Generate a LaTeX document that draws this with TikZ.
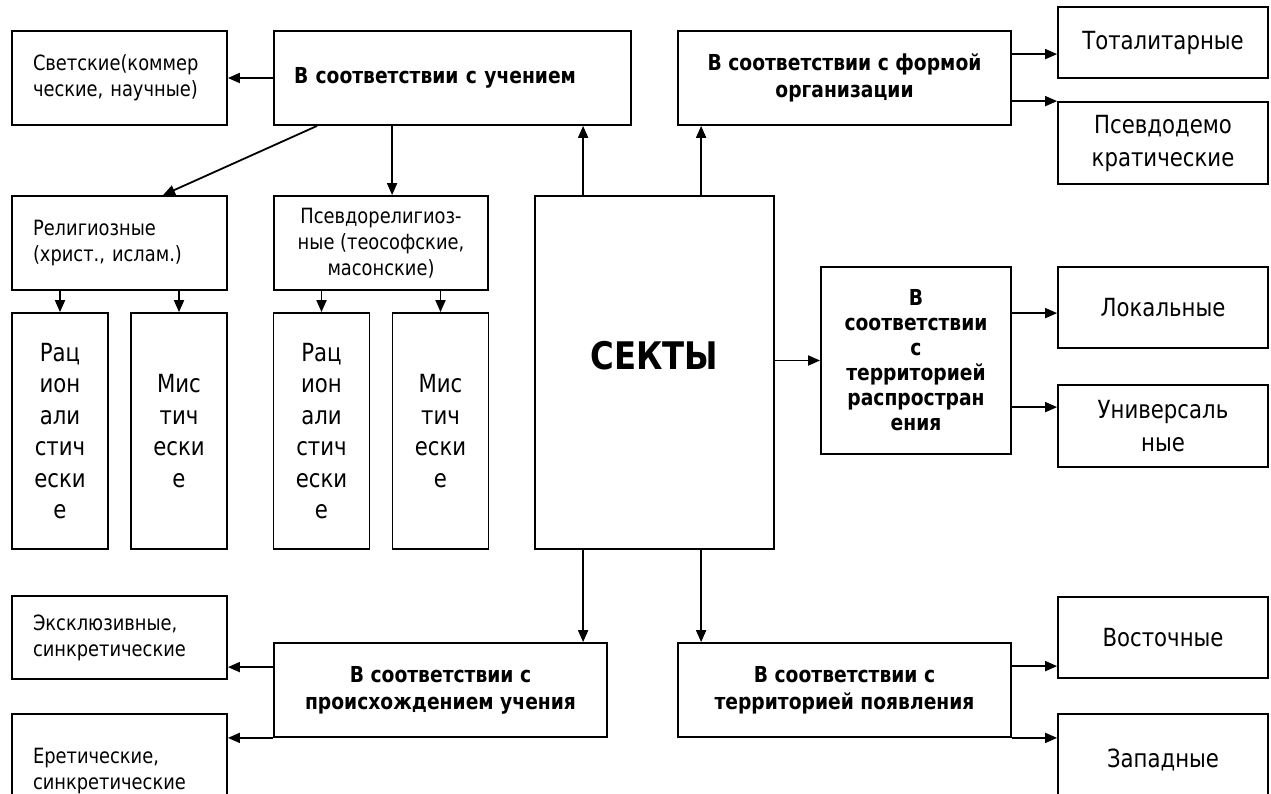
\documentclass[tikz,border=0pt]{standalone}
\usepackage{fontspec}
\setmainfont{DejaVu Sans}[FakeStretch=0.85]
\usetikzlibrary{arrows.meta, calc}

\newcommand{\sidefont}{\fontsize{21}{26}\selectfont}
\newcommand{\tallfont}{\fontsize{25}{31.5}\selectfont}
\newcommand{\kindfont}{\fontsize{25}{33}\selectfont}
\newcommand{\critfont}{\bfseries\fontsize{22}{27}\selectfont}
\newcommand{\sektyfont}{\bfseries\fontsize{38}{44}\selectfont}

\tikzset{
    sidebox/.style={minimum width=215pt, text width=173pt, align=left, font=\sidefont},
    kindbox/.style={minimum width=210pt, font=\kindfont},
    tallbox/.style={minimum width=96pt, minimum height=236pt, font=\tallfont},
    critbox/.style={font=\critfont}
}

\begin{document}
\begin{tikzpicture}[
    x=1pt, y=1pt,
    every node/.style={
        draw=black,
        line width=1.8pt,
        inner sep=0pt,
        align=center},
    line width=1.8pt,
    >={Triangle[length=12pt, width=10pt]}]
    \fill[white] (0,0) rectangle (1271,-794);
    \useasboundingbox (0,0) rectangle (1271,-794);

    % top row
    \node[sidebox, minimum height=94pt] (svet) at (119.5,-78) {Светские(коммер\\ческие, научные)};
    \node[critbox, minimum width=357pt, minimum height=94pt, text width=317pt, align=left] (uchen) at (452.5,-78) {В соответствии с учением};
    \node[critbox, minimum width=333pt, minimum height=94pt] (forma) at (844.5,-78) {В соответствии с формой\\организации};
    \node[kindbox, minimum height=71pt] (total) at (1163,-42.5) {Тоталитарные};
    \node[kindbox, minimum height=82pt] (psdem) at (1163,-143) {Псевдодемо\\кратические};

    % by teaching
    \node[sidebox, minimum height=94pt] (relig) at (119.5,-243) {Религиозные\\(христ., ислам.)};
    \node[font=\sidefont, minimum width=214pt, minimum height=94pt] (psrel) at (381,-243) {Псевдорелигиоз-\\ные (теософские,\\масонские)};
    \node[tallbox] (rac1) at (60,-431) {Рац\\ион\\али\\стич\\ески\\е};
    \node[tallbox] (mist1) at (179,-431) {Мис\\тич\\ески\\е};
    \node[tallbox] (rac2) at (321.5,-431) {Рац\\ион\\али\\стич\\ески\\е};
    \node[tallbox] (mist2) at (440.5,-431) {Мис\\тич\\ески\\е};

    % centre
    \node[minimum width=239pt, minimum height=353pt,
        label={[draw=none, font=\sektyfont, yshift=17pt]center:СЕКТЫ}] (sekty) at (654.5,-372.5) {};
    \node[font=\bfseries\fontsize{22}{25}\selectfont, minimum width=190pt, minimum height=187pt] (terrras) at (916,-360.5) {В\\соответствии\\с\\территорией\\распростран\\ения};
    \node[kindbox, minimum height=81pt] (lokal) at (1163,-307.5) {Локальные};
    \node[kindbox, minimum height=82pt] (univ) at (1163,-426) {Универсаль\\ные};

    % bottom row
    \node[sidebox, minimum height=83pt] (eksk) at (119.5,-637.5) {Эксклюзивные,\\синкретические};
    \node[critbox, minimum width=333pt, minimum height=94pt] (proish) at (440.5,-690) {В соответствии с\\происхождением учения};
    \node[sidebox, minimum height=114pt] (eret) at (119.5,-771) {Еретические,\\синкретические};
    \node[critbox, minimum width=333pt, minimum height=94pt] (terrpoyav) at (844.5,-690) {В соответствии с\\территорией появления};
    \node[kindbox, minimum height=81pt] (vost) at (1163,-637.5) {Восточные};
    \node[kindbox, minimum height=92pt] (zapad) at (1163,-760) {Западные};

    % connectors
    \draw[->] (uchen.west) -- (svet.east);
    \draw[->] ($(uchen.south west)+(44,0)$) -- ($(relig.north)+(43.5,0)$);
    \draw[->] ($(uchen.south west)+(119,0)$) -- ($(psrel.north west)+(119,0)$);
    \draw[->] (relig.south -| rac1.north) -- (rac1.north);
    \draw[->] (relig.south -| mist1.north) -- (mist1.north);
    \draw[->] (psrel.south -| rac2.north) -- (rac2.north);
    \draw[->] (psrel.south -| mist2.north) -- (mist2.north);

    \path (sekty.north west) ++(49,0) coordinate (up1) ++(118,0) coordinate (up2);
    \path (sekty.south west) ++(49,0) coordinate (dn1) ++(118,0) coordinate (dn2);
    \draw[->] (up1) -- (up1 |- uchen.south);
    \draw[->] (up2) -- (up2 |- forma.south);
    \draw[->] (dn1) -- (dn1 |- proish.north);
    \draw[->] (dn2) -- (dn2 |- terrpoyav.north);
    \draw[->] (sekty.east |- terrras.west) -- (terrras.west);

    \path (forma.north east) ++(0,-24) coordinate (f1);
    \draw[->] (f1) -- (f1 -| total.west);
    \draw[->] (psdem.north west -| forma.east) -- (psdem.north west);

    \path (terrras.north east) ++(0,-47) coordinate (t1) ++(0,-94) coordinate (t2);
    \draw[->] (t1) -- (t1 -| lokal.west);
    \draw[->] (t2) -- (t2 -| univ.west);

    \path (proish.north west) ++(0,-25) coordinate (p1);
    \draw[->] (p1) -- (p1 -| eksk.east);
    \draw[->] (proish.south west) -- (proish.south west -| eret.east);

    \path (terrpoyav.north east) ++(0,-24) coordinate (v1);
    \draw[->] (v1) -- (v1 -| vost.west);
    \draw[->] (terrpoyav.south east) -- (terrpoyav.south east -| zapad.west);
\end{tikzpicture}
\end{document}
